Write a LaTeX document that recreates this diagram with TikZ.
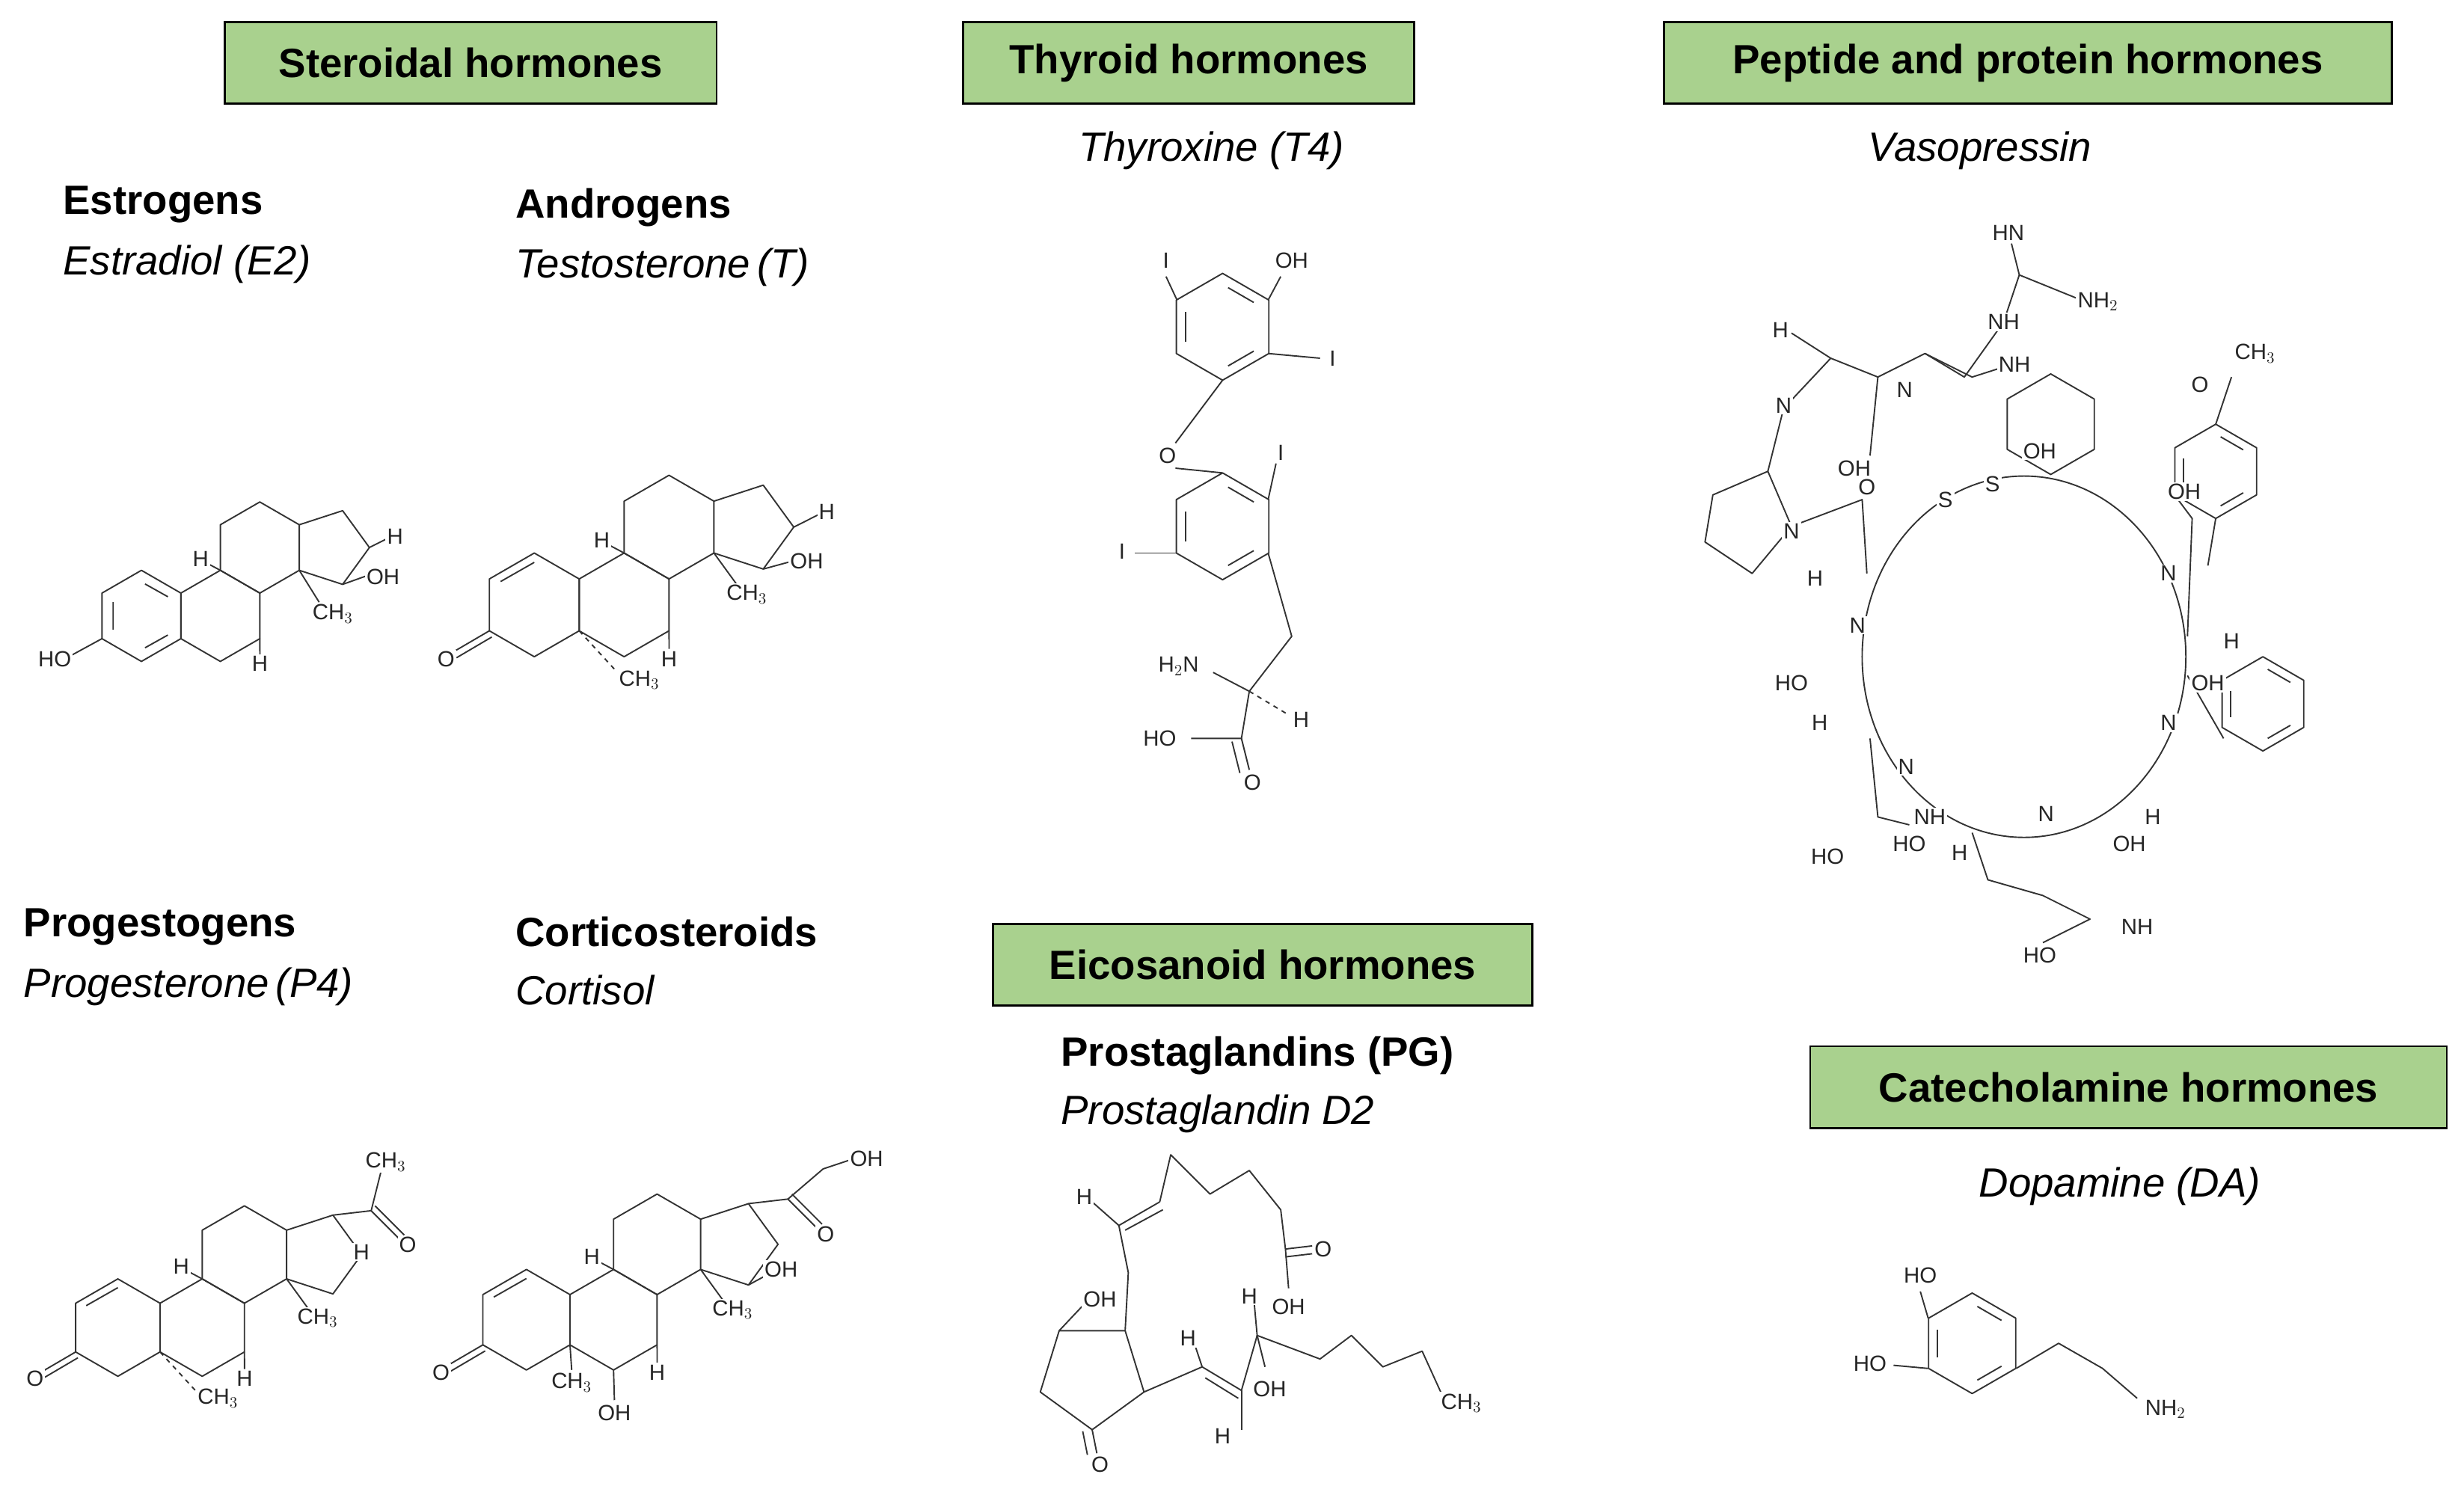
\documentclass[tikz,border=0pt]{standalone}
\usepackage{fontspec}
\setmainfont{Liberation Sans}
\newfontfamily\chemf{Liberation Sans}
\definecolor{hdrgreen}{HTML}{A9D18E}
\tikzset{x=1pt,y=-1pt,
 hdr/.style={draw=black,line width=1.3pt,fill=hdrgreen,font=\bfseries\fontsize{26}{30}\selectfont,minimum height=52pt,inner sep=0pt},
 bond/.style={line width=0.9pt,black!80,line join=round},
 atm/.style={font=\chemf\fontsize{14}{15}\selectfont,inner sep=1pt,fill=white,text=black!85},
 ttl/.style={font=\bfseries\fontsize{26}{30}\selectfont,anchor=west,inner sep=0pt},
 sub/.style={font=\itshape\fontsize{26}{30}\selectfont,anchor=west,inner sep=0pt}}
\newcommand\hx[2]{\draw[bond] (#1,#2) ++(0,1) -- ++(.866,-.5) -- ++(0,-1) -- ++(-.866,-.5) -- ++(-.866,.5) -- ++(0,1) -- cycle;}
\newcommand\core{%
 \hx{0}{0}\hx{1.732}{0}\hx{2.598}{1.5}
 \draw[bond] (3.464,2) -- (4.415,2.309) -- (5.003,1.5) -- (4.415,0.691) -- (3.464,1);
 \draw[bond] (1.732,1)--(1.45,1.15); \node[atm] at (1.3,1.25) {H};
 \draw[bond] (2.598,-.5)--(2.6,-.85); \node[atm] at (2.6,-1.05) {H};
}
\newcommand\hexg[3]{\draw[bond] (#1,#2-#3) -- (#1+.866*#3,#2-.5*#3) -- (#1+.866*#3,#2+.5*#3) -- (#1,#2+#3) -- (#1-.866*#3,#2+.5*#3) -- (#1-.866*#3,#2-.5*#3) -- cycle;}
\newcommand\arom[3]{\foreach \a in {30,150,270}{\draw[bond] ($(#1,#2)+(\a+8:0.74*#3pt)$) -- ($(#1,#2)+(\a+52:0.74*#3pt)$);}}
\usetikzlibrary{calc}
\begin{document}
\begin{tikzpicture}
\useasboundingbox[fill=white] (0,0) rectangle (1568,947.7);
% headers
\node[hdr,minimum width=313pt] (h1) at (299.5,40) {Steroidal hormones};
\node[hdr,minimum width=287pt] (h2) at (756.5,40) {Thyroid hormones};
\node[hdr,minimum width=463pt] (h3) at (1290.5,40) {Peptide and protein hormones};
\node[hdr,minimum width=343pt] (h4) at (803.5,614) {Eicosanoid hormones};
\node[hdr,minimum width=405pt] (h5) at (1354.5,692) {Catecholamine hormones};
% labels
\node[ttl] (t1) at (40,130) {Estrogens};
\node[sub] (s1) at (40,168) {Estradiol (E2)};
\node[ttl] (t2) at (328,132) {Androgens};
\node[sub] (s2) at (328,170) {Testosterone\,(T)};
\node[sub,anchor=center] (s3) at (771,96) {Thyroxine (T4)};
\node[sub,anchor=center] (s4) at (1260,96) {Vasopressin};
\node[ttl] (t5) at (15,590) {Progestogens};
\node[sub] (s5) at (15,628) {Progesterone\,(P4)};
\node[ttl] (t6) at (328,593) {Corticosteroids};
\node[sub] (s6) at (328,630) {Cortisol};
\node[ttl] (t7) at (675,672) {Prostaglandins (PG)};
\node[sub] (s7) at (675,709) {Prostaglandin D2};
\node[sub,anchor=center] (s8) at (1349,755) {Dopamine (DA)};
% estradiol
\begin{scope}[shift={(90,392)},scale=29,yscale=-1]
\core
\draw[bond] (-.62,.3)--(-.62,-.3) (.08,-.7)--(.58,-.42) (.08,.7)--(.58,.42);
\draw[bond] (-.866,-.5)--(-1.6,-.9); \node[atm,anchor=east] at (-1.5,-.95) {HO};
\draw[bond] (3.464,1)--(3.9,.3); \node[atm] at (4.2,.05) {CH$_3$};
\draw[bond] (4.415,.691)--(5.0,.9); \node[atm,anchor=west] at (4.9,.85) {OH};
\draw[bond] (5.003,1.5)--(5.4,1.7); \node[atm,anchor=west] at (5.35,1.75) {H};
\end{scope}
% testosterone
\begin{scope}[shift={(340,385)},scale=33,yscale=-1]
\core
\draw[bond] (-.65,.45)--(0,.82);
\draw[bond] (-.866,-.5)--(-1.55,-.9) (-.82,-.62)--(-1.5,-1.02); \node[atm] at (-1.7,-1.05) {O};
\draw[bond,dashed] (.866,-.5)--(1.6,-1.3); \node[atm,anchor=west] at (1.6,-1.45) {CH$_3$};
\draw[bond] (3.464,1)--(3.9,.4); \node[atm] at (4.1,.2) {CH$_3$};
\draw[bond] (4.415,.691)--(5.0,.85); \node[atm,anchor=west] at (4.9,.85) {OH};
\draw[bond] (5.003,1.5)--(5.5,1.75); \node[atm,anchor=west] at (5.45,1.8) {H};
\end{scope}
% progesterone
\begin{scope}[shift={(75,845)},scale=31,yscale=-1]
\core
\draw[bond] (-.65,.45)--(0,.82);
\draw[bond] (-.866,-.5)--(-1.55,-.9) (-.82,-.62)--(-1.5,-1.02); \node[atm] at (-1.7,-1.05) {O};
\draw[bond,dashed] (.866,-.5)--(1.6,-1.3); \node[atm,anchor=west] at (1.6,-1.45) {CH$_3$};
\draw[bond] (3.464,1)--(3.9,.4); \node[atm] at (4.1,.2) {CH$_3$};
\draw[bond] (4.415,2.309)--(5.2,2.4); \draw[bond] (5.2,2.4)--(5.4,3.2); \node[atm] at (5.5,3.4) {CH$_3$};
\draw[bond] (5.2,2.4)--(5.8,1.8) (5.28,2.5)--(5.88,1.9); \node[atm] at (5.95,1.7) {O};
\node[atm] at (5.0,1.55) {H};
\end{scope}
% cortisol
\begin{scope}[shift={(335,840)},scale=32,yscale=-1]
\core
\draw[bond] (-.65,.45)--(0,.82);
\draw[bond] (-.866,-.5)--(-1.55,-.9) (-.82,-.62)--(-1.5,-1.02); \node[atm] at (-1.7,-1.05) {O};
\draw[bond] (.866,-.5)--(.9,-1.0); \node[atm] at (.9,-1.25) {CH$_3$};
\draw[bond] (1.732,-1)--(1.75,-1.6); \node[atm] at (1.75,-1.85) {OH};
\draw[bond] (3.464,1)--(3.9,.4); \node[atm] at (4.1,.2) {CH$_3$};
\draw[bond] (4.415,.691)--(4.8,.9); \node[atm,anchor=west] at (4.7,1.0) {OH};
\draw[bond] (4.415,2.309)--(5.2,2.4); \draw[bond] (5.2,2.4)--(5.9,3.0)--(6.5,3.2); \node[atm,anchor=west] at (6.4,3.2) {OH};
\draw[bond] (5.2,2.4)--(5.8,1.8) (5.28,2.5)--(5.88,1.9); \node[atm] at (5.95,1.7) {O};
\end{scope}
% thyroxine
\hexg{778}{208}{34}\arom{778}{208}{34}
\hexg{778}{335}{34}\arom{778}{335}{34}
\draw[bond] (749,191)--(742,176); \node[atm] at (742,166) {I};
\draw[bond] (807,191)--(815,176); \node[atm] at (822,166) {OH};
\draw[bond] (807,225)--(840,228); \node[atm] at (848,228) {I};
\draw[bond] (778,242)--(748,282); \node[atm] at (743,290) {O};
\draw[bond] (748,298)--(778,301);
\draw[bond] (807,318)--(812,295); \node[atm] at (815,288) {I};
\draw[bond] (749,352)--(722,352); \node[atm] at (714,351) {I};
\draw[bond] (807,352)--(822,405)--(795,440);
\draw[bond] (795,440)--(772,428); \node[atm] at (750,424) {H$_2$N};
\draw[bond,dashed] (795,440)--(820,455); \node[atm] at (828,458) {H};
\draw[bond] (795,440)--(790,470)--(758,470); \node[atm] at (738,470) {HO};
\draw[bond] (790,470)--(795,490) (784,472)--(789,492); \node[atm] at (797,498) {O};
% vasopressin
\draw[bond] (1288,418) ellipse (103 and 115);
\draw[bond] (1090,315)--(1125,300)--(1140,335)--(1115,365)--(1085,345)--cycle;
\hexg{1305}{270}{32}
\hexg{1410}{300}{30}\arom{1410}{300}{30}
\hexg{1440}{448}{30}\arom{1440}{448}{30}
\draw[bond] (1140,335)--(1185,318)--(1188,365);
\draw[bond] (1125,300)--(1135,260)--(1165,228)--(1195,240)--(1225,225)--(1250,240)--(1275,205);
\draw[bond] (1275,205)--(1285,175)--(1280,155) (1285,175)--(1322,190);
\draw[bond] (1165,228)--(1140,212);
\draw[bond] (1195,240)--(1190,290) (1225,225)--(1255,240)--(1280,232);
\draw[bond] (1392,405)--(1395,330)--(1380,310);
\draw[bond] (1410,330)--(1405,360);
\draw[bond] (1410,270)--(1420,240);
\draw[bond] (1392,430)--(1415,470);
\draw[bond] (1190,470)--(1195,520)--(1215,525);
\draw[bond] (1255,530)--(1265,560)--(1300,570)--(1330,585)--(1300,600);
\foreach \p/\t in {(1278,148)/HN,(1335,192)/NH$_2$,(1275,205)/NH,(1133,210)/H,(1135,258)/N,(1212,248)/N,(1180,298)/OH,(1282,232)/NH,(1298,287)/OH,(1238,318)/S,(1268,308)/S,(1188,310)/O,(1140,338)/N,(1155,368)/H,(1435,225)/CH$_3$,(1400,245)/O,(1390,313)/OH,(1380,365)/N,(1420,408)/H,(1182,398)/N,(1405,435)/OH,(1140,435)/HO,(1158,460)/H,(1380,460)/N,(1213,488)/N,(1302,518)/N,(1370,520)/H,(1228,520)/NH,(1215,537)/HO,(1355,537)/OH,(1163,545)/HO,(1247,543)/H,(1360,590)/NH,(1298,608)/HO}
 \node[atm] at \p {\t};
% prostaglandin
\draw[bond] (695,910)--(728,886)--(716,847)--(674,847)--(662,886)--cycle;
\draw[bond] (695,910)--(698,925) (689,911)--(692,926); \node[atm] at (700,932) {O};
\draw[bond] (674,847)--(690,830); \node[atm] at (700,827) {OH};
\draw[bond] (716,847)--(718,810)--(712,780)--(738,765) (716,783)--(740,770);
\draw[bond] (712,780)--(695,765); \node[atm] at (690,762) {H};
\draw[bond] (738,765)--(745,735)--(770,760)--(795,745)--(815,770)--(818,795);
\draw[bond] (818,795)--(835,793) (818,800)--(835,798); \node[atm] at (842,795) {O};
\draw[bond] (818,795)--(820,820); \node[atm] at (820,832) {OH};
\draw[bond] (728,886)--(765,870)--(790,885) (767,877)--(788,890);
\draw[bond] (765,870)--(760,855); \node[atm] at (756,852) {H};
\draw[bond] (790,885)--(790,910); \node[atm] at (778,914) {H};
\draw[bond] (790,885)--(800,850)--(840,865)--(860,850)--(880,870)--(905,860)--(920,893);
\draw[bond] (800,850)--(798,828); \node[atm] at (795,825) {H};
\draw[bond] (800,850)--(805,870); \node[atm] at (808,884) {OH};
\node[atm] at (930,893) {CH$_3$};
% dopamine
\hexg{1255}{855}{32}\arom{1255}{855}{32}
\draw[bond] (1227,839)--(1222,822); \node[atm] at (1222,812) {HO};
\draw[bond] (1227,871)--(1205,869); \node[atm] at (1190,868) {HO};
\draw[bond] (1283,871)--(1310,855)--(1338,871)--(1360,890); \node[atm] at (1378,897) {NH$_2$};
\end{tikzpicture}
\end{document}
